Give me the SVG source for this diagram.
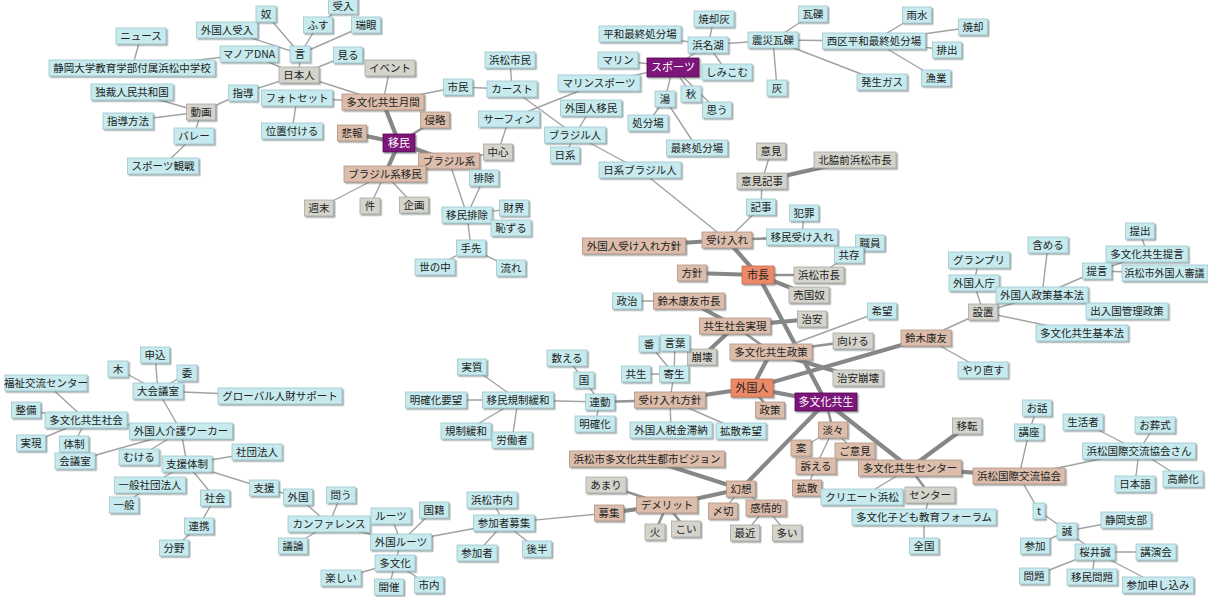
<svg xmlns="http://www.w3.org/2000/svg" width="1208" height="597" viewBox="0 0 1208 597">
<defs>
<filter id="sh" x="-10%" y="-20%" width="130%" height="160%"><feDropShadow dx="1.5" dy="1.5" stdDeviation="0.6" flood-color="#5a6a6a" flood-opacity="0.55"/></filter>
</defs>
<style>
rect{filter:url(#sh);stroke-width:0.8}
.c rect{fill:#c6eaee;stroke:#9fc6ca}
.g rect{fill:#d4d4cc;stroke:#a9a9a1}
.t rect{fill:#dcbdab;stroke:#b39383}
.s rect{fill:#ec8a68;stroke:#c46c50}
.p rect{fill:#7c1479;stroke:#5a0a58}
text{font-family:"Noto Sans CJK JP","Noto Sans CJK SC",sans-serif;font-size:10.5px;text-anchor:middle;fill:#222}
.p text{fill:#fff;font-size:11px}
.s text{font-size:11px}
#edges line{stroke:#a2a2a2;stroke-width:1.4;stroke-linecap:round}
#edges line.m{stroke:#929292;stroke-width:2.6}
#edges line.k{stroke:#878787;stroke-width:4.2}
</style>
<rect x="0" y="0" width="1208" height="597" fill="#fff" style="filter:none"/>
<g id="edges">
<line x1="141" y1="36" x2="132" y2="68"/>
<line x1="132" y1="68" x2="249" y2="54"/>
<line x1="249" y1="54" x2="299" y2="75"/>
<line x1="227" y1="30" x2="300" y2="54"/>
<line x1="266" y1="14" x2="300" y2="54"/>
<line x1="300" y1="54" x2="299" y2="75"/>
<line x1="318" y1="25" x2="300" y2="54"/>
<line x1="343" y1="6" x2="318" y2="25"/>
<line x1="366" y1="25" x2="300" y2="54"/>
<line x1="348" y1="55" x2="299" y2="75"/>
<line x1="299" y1="75" x2="243" y2="93"/>
<line x1="243" y1="93" x2="201" y2="112"/>
<line x1="201" y1="112" x2="132" y2="92"/>
<line x1="201" y1="112" x2="128" y2="121"/>
<line x1="201" y1="112" x2="194" y2="136"/>
<line x1="194" y1="136" x2="163" y2="166"/>
<line x1="299" y1="75" x2="383" y2="102"/>
<line x1="297" y1="98" x2="383" y2="102"/>
<line x1="297" y1="98" x2="292" y2="131"/>
<line x1="383" y1="102" x2="390" y2="68"/>
<line x1="383" y1="102" x2="458" y2="87"/>
<line x1="458" y1="87" x2="512" y2="89"/>
<line x1="512" y1="89" x2="510" y2="60"/>
<line x1="512" y1="89" x2="575" y2="135"/>
<line x1="509" y1="119" x2="599" y2="83"/>
<line x1="509" y1="119" x2="498" y2="152"/>
<line x1="498" y1="152" x2="449" y2="161"/>
<line class="k" x1="399" y1="143" x2="383" y2="102"/>
<line class="k" x1="399" y1="143" x2="352" y2="133"/>
<line class="k" x1="399" y1="143" x2="385" y2="174"/>
<line class="k" x1="399" y1="143" x2="449" y2="161"/>
<line class="m" x1="399" y1="143" x2="435" y2="120"/>
<line x1="385" y1="174" x2="319" y2="208"/>
<line x1="385" y1="174" x2="370" y2="206"/>
<line x1="385" y1="174" x2="414" y2="205"/>
<line x1="449" y1="161" x2="467" y2="215"/>
<line x1="484" y1="178" x2="467" y2="215"/>
<line x1="467" y1="215" x2="514" y2="208"/>
<line x1="467" y1="215" x2="511" y2="228"/>
<line x1="467" y1="215" x2="471" y2="248"/>
<line x1="471" y1="248" x2="435" y2="267"/>
<line x1="471" y1="248" x2="511" y2="268"/>
<line x1="591" y1="108" x2="575" y2="135"/>
<line x1="575" y1="135" x2="565" y2="155"/>
<line x1="575" y1="135" x2="640" y2="170"/>
<line x1="673" y1="67" x2="618" y2="60"/>
<line x1="673" y1="67" x2="599" y2="83"/>
<line x1="673" y1="67" x2="665" y2="99"/>
<line x1="673" y1="67" x2="691" y2="94"/>
<line x1="673" y1="67" x2="717" y2="110"/>
<line x1="673" y1="67" x2="708" y2="45"/>
<line x1="665" y1="99" x2="648" y2="123"/>
<line x1="665" y1="99" x2="697" y2="148"/>
<line x1="708" y1="45" x2="640" y2="34"/>
<line x1="708" y1="45" x2="714" y2="19"/>
<line x1="708" y1="45" x2="727" y2="72"/>
<line x1="708" y1="45" x2="773" y2="40"/>
<line x1="773" y1="40" x2="813" y2="14"/>
<line x1="773" y1="40" x2="777" y2="88"/>
<line x1="773" y1="40" x2="874" y2="41"/>
<line x1="773" y1="40" x2="882" y2="82"/>
<line x1="874" y1="41" x2="917" y2="15"/>
<line x1="874" y1="41" x2="973" y2="27"/>
<line x1="874" y1="41" x2="947" y2="50"/>
<line x1="874" y1="41" x2="936" y2="78"/>
<line x1="771" y1="151" x2="762" y2="181"/>
<line class="k" x1="762" y1="181" x2="855" y2="160"/>
<line x1="762" y1="181" x2="761" y2="207"/>
<line x1="761" y1="207" x2="727" y2="240"/>
<line x1="640" y1="170" x2="727" y2="240"/>
<line class="k" x1="727" y1="240" x2="634" y2="246"/>
<line class="m" x1="727" y1="240" x2="802" y2="237"/>
<line x1="802" y1="237" x2="804" y2="213"/>
<line class="k" x1="727" y1="240" x2="758" y2="275"/>
<line class="k" x1="758" y1="275" x2="692" y2="273"/>
<line class="m" x1="758" y1="275" x2="819" y2="275"/>
<line class="k" x1="758" y1="275" x2="809" y2="295"/>
<line class="k" x1="758" y1="275" x2="826" y2="402"/>
<line x1="819" y1="275" x2="849" y2="255"/>
<line x1="849" y1="255" x2="870" y2="243"/>
<line x1="627" y1="301" x2="689" y2="301"/>
<line class="k" x1="689" y1="301" x2="735" y2="326"/>
<line class="k" x1="735" y1="326" x2="812" y2="319"/>
<line class="m" x1="735" y1="326" x2="771" y2="352"/>
<line class="k" x1="735" y1="326" x2="702" y2="357"/>
<line x1="702" y1="357" x2="674" y2="374"/>
<line x1="674" y1="374" x2="649" y2="344"/>
<line x1="674" y1="374" x2="675" y2="343"/>
<line x1="674" y1="374" x2="636" y2="374"/>
<line x1="674" y1="374" x2="670" y2="400"/>
<line x1="771" y1="352" x2="882" y2="311"/>
<line class="m" x1="771" y1="352" x2="853" y2="341"/>
<line class="k" x1="771" y1="352" x2="858" y2="378"/>
<line class="k" x1="771" y1="352" x2="752" y2="388"/>
<line class="k" x1="752" y1="388" x2="670" y2="400"/>
<line class="m" x1="752" y1="388" x2="770" y2="410"/>
<line class="k" x1="752" y1="388" x2="826" y2="402"/>
<line class="k" x1="752" y1="388" x2="926" y2="338"/>
<line class="m" x1="670" y1="400" x2="600" y2="402"/>
<line x1="670" y1="400" x2="671" y2="430"/>
<line x1="670" y1="400" x2="741" y2="431"/>
<line x1="600" y1="402" x2="518" y2="400"/>
<line x1="600" y1="402" x2="595" y2="424"/>
<line x1="600" y1="402" x2="584" y2="380"/>
<line x1="584" y1="380" x2="567" y2="358"/>
<line x1="518" y1="400" x2="436" y2="400"/>
<line x1="518" y1="400" x2="472" y2="367"/>
<line x1="518" y1="400" x2="466" y2="431"/>
<line x1="518" y1="400" x2="512" y2="440"/>
<line x1="926" y1="338" x2="983" y2="312"/>
<line x1="926" y1="338" x2="983" y2="370"/>
<line x1="983" y1="312" x2="974" y2="283"/>
<line x1="974" y1="283" x2="979" y2="260"/>
<line x1="983" y1="312" x2="1042" y2="295"/>
<line x1="983" y1="312" x2="1082" y2="333"/>
<line x1="1042" y1="295" x2="1048" y2="245"/>
<line x1="1042" y1="295" x2="1097" y2="271"/>
<line x1="1042" y1="295" x2="1127" y2="311"/>
<line x1="1097" y1="271" x2="1147" y2="254"/>
<line x1="1097" y1="271" x2="1165" y2="273"/>
<line x1="1147" y1="254" x2="1140" y2="231"/>
<line class="m" x1="826" y1="402" x2="833" y2="430"/>
<line x1="833" y1="430" x2="801" y2="448"/>
<line x1="833" y1="430" x2="855" y2="451"/>
<line x1="833" y1="430" x2="816" y2="466"/>
<line x1="816" y1="466" x2="807" y2="488"/>
<line class="k" x1="826" y1="402" x2="910" y2="468"/>
<line class="k" x1="910" y1="468" x2="967" y2="426"/>
<line class="k" x1="910" y1="468" x2="1019" y2="476"/>
<line class="m" x1="910" y1="468" x2="930" y2="495"/>
<line x1="910" y1="468" x2="862" y2="497"/>
<line x1="930" y1="495" x2="924" y2="517"/>
<line x1="924" y1="517" x2="924" y2="546"/>
<line x1="1019" y1="476" x2="1029" y2="432"/>
<line x1="1029" y1="432" x2="1037" y2="408"/>
<line x1="1019" y1="476" x2="1139" y2="451"/>
<line x1="1139" y1="451" x2="1083" y2="422"/>
<line x1="1139" y1="451" x2="1155" y2="425"/>
<line x1="1139" y1="451" x2="1135" y2="484"/>
<line x1="1139" y1="451" x2="1183" y2="479"/>
<line x1="1019" y1="476" x2="1039" y2="511"/>
<line x1="1039" y1="511" x2="1067" y2="531"/>
<line x1="1067" y1="531" x2="1126" y2="520"/>
<line x1="1067" y1="531" x2="1035" y2="546"/>
<line x1="1067" y1="531" x2="1095" y2="552"/>
<line x1="1095" y1="552" x2="1156" y2="552"/>
<line x1="1095" y1="552" x2="1034" y2="576"/>
<line x1="1095" y1="552" x2="1092" y2="577"/>
<line x1="1095" y1="552" x2="1158" y2="585"/>
<line class="k" x1="826" y1="402" x2="741" y2="489"/>
<line class="k" x1="741" y1="489" x2="647" y2="459"/>
<line class="k" x1="741" y1="489" x2="667" y2="505"/>
<line x1="741" y1="489" x2="723" y2="511"/>
<line x1="741" y1="489" x2="766" y2="508"/>
<line x1="766" y1="508" x2="745" y2="533"/>
<line x1="766" y1="508" x2="787" y2="533"/>
<line class="m" x1="667" y1="505" x2="606" y2="485"/>
<line class="k" x1="667" y1="505" x2="609" y2="513"/>
<line class="m" x1="667" y1="505" x2="655" y2="532"/>
<line class="m" x1="667" y1="505" x2="686" y2="529"/>
<line x1="609" y1="513" x2="504" y2="523"/>
<line x1="158" y1="391" x2="155" y2="355"/>
<line x1="158" y1="391" x2="118" y2="369"/>
<line x1="158" y1="391" x2="187" y2="373"/>
<line x1="158" y1="391" x2="280" y2="396"/>
<line x1="158" y1="391" x2="181" y2="431"/>
<line x1="46" y1="383" x2="86" y2="420"/>
<line x1="86" y1="420" x2="26" y2="410"/>
<line x1="86" y1="420" x2="31" y2="443"/>
<line x1="86" y1="420" x2="74" y2="444"/>
<line x1="86" y1="420" x2="181" y2="431"/>
<line x1="181" y1="431" x2="75" y2="461"/>
<line x1="181" y1="431" x2="139" y2="457"/>
<line x1="181" y1="431" x2="187" y2="464"/>
<line x1="187" y1="464" x2="257" y2="452"/>
<line x1="187" y1="464" x2="150" y2="485"/>
<line x1="187" y1="464" x2="215" y2="498"/>
<line x1="187" y1="464" x2="264" y2="488"/>
<line x1="150" y1="485" x2="124" y2="505"/>
<line x1="215" y1="498" x2="199" y2="526"/>
<line x1="199" y1="526" x2="174" y2="548"/>
<line x1="264" y1="488" x2="298" y2="497"/>
<line x1="298" y1="497" x2="329" y2="524"/>
<line x1="341" y1="495" x2="329" y2="524"/>
<line x1="329" y1="524" x2="293" y2="546"/>
<line x1="329" y1="524" x2="401" y2="542"/>
<line x1="401" y1="542" x2="391" y2="516"/>
<line x1="401" y1="542" x2="434" y2="510"/>
<line x1="401" y1="542" x2="395" y2="563"/>
<line x1="401" y1="542" x2="504" y2="523"/>
<line x1="395" y1="563" x2="341" y2="578"/>
<line x1="395" y1="563" x2="389" y2="588"/>
<line x1="395" y1="563" x2="429" y2="585"/>
<line x1="504" y1="523" x2="492" y2="500"/>
<line x1="504" y1="523" x2="477" y2="553"/>
<line x1="504" y1="523" x2="537" y2="549"/>
</g>
<g id="n1" class="c"><rect x="116" y="28" width="50" height="16"/><text x="141" y="40">ニュース</text></g>
<g id="n2" class="c"><rect x="49" y="60" width="166" height="16"/><text x="132" y="72">静岡大学教育学部付属浜松中学校</text></g>
<g id="n3" class="c"><rect x="196.5" y="22" width="61" height="16"/><text x="227" y="34">外国人受入</text></g>
<g id="n4" class="c"><rect x="256" y="6" width="20" height="16"/><text x="266" y="18">奴</text></g>
<g id="n5" class="c"><rect x="220" y="46" width="58" height="16"/><text x="249" y="58">マノアDNA</text></g>
<g id="n6" class="c"><rect x="290" y="46" width="20" height="16"/><text x="300" y="58">言</text></g>
<g id="n7" class="c"><rect x="303.5" y="17" width="29" height="16"/><text x="318" y="29">ふす</text></g>
<g id="n8" class="c"><rect x="328.5" y="-2" width="29" height="16"/><text x="343" y="10">受入</text></g>
<g id="n9" class="c"><rect x="351.5" y="17" width="29" height="16"/><text x="366" y="29">瑞眼</text></g>
<g id="n10" class="c"><rect x="333.5" y="47" width="29" height="16"/><text x="348" y="59">見る</text></g>
<g id="n11" class="g"><rect x="279" y="67" width="40" height="16"/><text x="299" y="79">日本人</text></g>
<g id="n12" class="c"><rect x="228.5" y="85" width="29" height="16"/><text x="243" y="97">指導</text></g>
<g id="n13" class="c"><rect x="261.5" y="90" width="71" height="16"/><text x="297" y="102">フォトセット</text></g>
<g id="n14" class="c"><rect x="261.5" y="123" width="61" height="16"/><text x="292" y="135">位置付ける</text></g>
<g id="n15" class="c"><rect x="91" y="84" width="82" height="16"/><text x="132" y="96">独裁人民共和国</text></g>
<g id="n16" class="g"><rect x="186.5" y="104" width="29" height="16"/><text x="201" y="116">動画</text></g>
<g id="n17" class="c"><rect x="103" y="113" width="50" height="16"/><text x="128" y="125">指導方法</text></g>
<g id="n18" class="c"><rect x="174" y="128" width="40" height="16"/><text x="194" y="140">バレー</text></g>
<g id="n19" class="c"><rect x="127.5" y="158" width="71" height="16"/><text x="163" y="170">スポーツ観戦</text></g>
<g id="n20" class="g"><rect x="365" y="60" width="50" height="16"/><text x="390" y="72">イベント</text></g>
<g id="n21" class="t"><rect x="342" y="94" width="82" height="16"/><text x="383" y="106">多文化共生月間</text></g>
<g id="n22" class="c"><rect x="443.5" y="79" width="29" height="16"/><text x="458" y="91">市民</text></g>
<g id="n23" class="c"><rect x="485" y="52" width="50" height="16"/><text x="510" y="64">浜松市民</text></g>
<g id="n24" class="c"><rect x="487" y="81" width="50" height="16"/><text x="512" y="93">カースト</text></g>
<g id="n25" class="c"><rect x="478.5" y="111" width="61" height="16"/><text x="509" y="123">サーフィン</text></g>
<g id="n26" class="g"><rect x="483.5" y="144" width="29" height="16"/><text x="498" y="156">中心</text></g>
<g id="n27" class="t"><rect x="420.5" y="112" width="29" height="16"/><text x="435" y="124">侵略</text></g>
<g id="n28" class="t"><rect x="337.5" y="125" width="29" height="16"/><text x="352" y="137">悲報</text></g>
<g id="n29" class="p"><rect x="383" y="134" width="32" height="18"/><text x="399" y="147">移民</text></g>
<g id="n30" class="t"><rect x="418.5" y="153" width="61" height="16"/><text x="449" y="165">ブラジル系</text></g>
<g id="n31" class="t"><rect x="344" y="166" width="82" height="16"/><text x="385" y="178">ブラジル系移民</text></g>
<g id="n32" class="g"><rect x="304.5" y="200" width="29" height="16"/><text x="319" y="212">週末</text></g>
<g id="n33" class="g"><rect x="360" y="198" width="20" height="16"/><text x="370" y="210">件</text></g>
<g id="n34" class="g"><rect x="399.5" y="197" width="29" height="16"/><text x="414" y="209">企画</text></g>
<g id="n35" class="c"><rect x="469.5" y="170" width="29" height="16"/><text x="484" y="182">排除</text></g>
<g id="n36" class="c"><rect x="442" y="207" width="50" height="16"/><text x="467" y="219">移民排除</text></g>
<g id="n37" class="c"><rect x="499.5" y="200" width="29" height="16"/><text x="514" y="212">財界</text></g>
<g id="n38" class="c"><rect x="491" y="220" width="40" height="16"/><text x="511" y="232">恥ずる</text></g>
<g id="n39" class="c"><rect x="456.5" y="240" width="29" height="16"/><text x="471" y="252">手先</text></g>
<g id="n40" class="c"><rect x="415" y="259" width="40" height="16"/><text x="435" y="271">世の中</text></g>
<g id="n41" class="c"><rect x="496.5" y="260" width="29" height="16"/><text x="511" y="272">流れ</text></g>
<g id="n42" class="c"><rect x="558" y="75" width="82" height="16"/><text x="599" y="87">マリンスポーツ</text></g>
<g id="n43" class="c"><rect x="560.5" y="100" width="61" height="16"/><text x="591" y="112">外国人移民</text></g>
<g id="n44" class="c"><rect x="544.5" y="127" width="61" height="16"/><text x="575" y="139">ブラジル人</text></g>
<g id="n45" class="c"><rect x="550.5" y="147" width="29" height="16"/><text x="565" y="159">日系</text></g>
<g id="n46" class="c"><rect x="599" y="162" width="82" height="16"/><text x="640" y="174">日系ブラジル人</text></g>
<g id="n47" class="c"><rect x="599" y="26" width="82" height="16"/><text x="640" y="38">平和最終処分場</text></g>
<g id="n48" class="c"><rect x="598" y="52" width="40" height="16"/><text x="618" y="64">マリン</text></g>
<g id="n49" class="p"><rect x="647" y="58" width="52" height="19"/><text x="673" y="71">スポーツ</text></g>
<g id="n50" class="c"><rect x="694" y="11" width="40" height="16"/><text x="714" y="23">焼却灰</text></g>
<g id="n51" class="c"><rect x="688" y="37" width="40" height="16"/><text x="708" y="49">浜名湖</text></g>
<g id="n52" class="c"><rect x="702" y="64" width="50" height="16"/><text x="727" y="76">しみこむ</text></g>
<g id="n53" class="c"><rect x="655" y="91" width="20" height="16"/><text x="665" y="103">湯</text></g>
<g id="n54" class="c"><rect x="681" y="86" width="20" height="16"/><text x="691" y="98">秋</text></g>
<g id="n55" class="c"><rect x="702.5" y="102" width="29" height="16"/><text x="717" y="114">思う</text></g>
<g id="n56" class="c"><rect x="628" y="115" width="40" height="16"/><text x="648" y="127">処分場</text></g>
<g id="n57" class="c"><rect x="666.5" y="140" width="61" height="16"/><text x="697" y="152">最終処分場</text></g>
<g id="n58" class="c"><rect x="748" y="32" width="50" height="16"/><text x="773" y="44">震災瓦礫</text></g>
<g id="n59" class="c"><rect x="798.5" y="6" width="29" height="16"/><text x="813" y="18">瓦礫</text></g>
<g id="n60" class="c"><rect x="767" y="80" width="20" height="16"/><text x="777" y="92">灰</text></g>
<g id="n61" class="c"><rect x="822.5" y="33" width="103" height="16"/><text x="874" y="45">西区平和最終処分場</text></g>
<g id="n62" class="c"><rect x="902.5" y="7" width="29" height="16"/><text x="917" y="19">雨水</text></g>
<g id="n63" class="c"><rect x="958.5" y="19" width="29" height="16"/><text x="973" y="31">焼却</text></g>
<g id="n64" class="c"><rect x="932.5" y="42" width="29" height="16"/><text x="947" y="54">排出</text></g>
<g id="n65" class="c"><rect x="857" y="74" width="50" height="16"/><text x="882" y="86">発生ガス</text></g>
<g id="n66" class="c"><rect x="921.5" y="70" width="29" height="16"/><text x="936" y="82">漁業</text></g>
<g id="n67" class="g"><rect x="756.5" y="143" width="29" height="16"/><text x="771" y="155">意見</text></g>
<g id="n68" class="g"><rect x="737" y="173" width="50" height="16"/><text x="762" y="185">意見記事</text></g>
<g id="n69" class="g"><rect x="814" y="152" width="82" height="16"/><text x="855" y="164">北脇前浜松市長</text></g>
<g id="n70" class="c"><rect x="746.5" y="199" width="29" height="16"/><text x="761" y="211">記事</text></g>
<g id="n71" class="c"><rect x="789.5" y="205" width="29" height="16"/><text x="804" y="217">犯罪</text></g>
<g id="n72" class="t"><rect x="702" y="232" width="50" height="16"/><text x="727" y="244">受け入れ</text></g>
<g id="n73" class="c"><rect x="766.5" y="229" width="71" height="16"/><text x="802" y="241">移民受け入れ</text></g>
<g id="n74" class="t"><rect x="582.5" y="238" width="103" height="16"/><text x="634" y="250">外国人受け入れ方針</text></g>
<g id="n75" class="c"><rect x="855.5" y="235" width="29" height="16"/><text x="870" y="247">職員</text></g>
<g id="n76" class="c"><rect x="834.5" y="247" width="29" height="16"/><text x="849" y="259">共存</text></g>
<g id="n77" class="t"><rect x="677.5" y="265" width="29" height="16"/><text x="692" y="277">方針</text></g>
<g id="n78" class="s"><rect x="742" y="266" width="32" height="18"/><text x="758" y="279">市長</text></g>
<g id="n79" class="g"><rect x="794" y="267" width="50" height="16"/><text x="819" y="279">浜松市長</text></g>
<g id="n80" class="g"><rect x="789" y="287" width="40" height="16"/><text x="809" y="299">売国奴</text></g>
<g id="n81" class="c"><rect x="612.5" y="293" width="29" height="16"/><text x="627" y="305">政治</text></g>
<g id="n82" class="t"><rect x="653.5" y="293" width="71" height="16"/><text x="689" y="305">鈴木康友市長</text></g>
<g id="n83" class="t"><rect x="699.5" y="318" width="71" height="16"/><text x="735" y="330">共生社会実現</text></g>
<g id="n84" class="g"><rect x="797.5" y="311" width="29" height="16"/><text x="812" y="323">治安</text></g>
<g id="n85" class="c"><rect x="867.5" y="303" width="29" height="16"/><text x="882" y="315">希望</text></g>
<g id="n86" class="g"><rect x="833" y="333" width="40" height="16"/><text x="853" y="345">向ける</text></g>
<g id="n87" class="t"><rect x="730" y="344" width="82" height="16"/><text x="771" y="356">多文化共生政策</text></g>
<g id="n88" class="g"><rect x="687.5" y="349" width="29" height="16"/><text x="702" y="361">崩壊</text></g>
<g id="n89" class="c"><rect x="639" y="336" width="20" height="16"/><text x="649" y="348">番</text></g>
<g id="n90" class="c"><rect x="660.5" y="335" width="29" height="16"/><text x="675" y="347">言葉</text></g>
<g id="n91" class="c"><rect x="621.5" y="366" width="29" height="16"/><text x="636" y="378">共生</text></g>
<g id="n92" class="c"><rect x="659.5" y="366" width="29" height="16"/><text x="674" y="378">寄生</text></g>
<g id="n93" class="g"><rect x="833" y="370" width="50" height="16"/><text x="858" y="382">治安崩壊</text></g>
<g id="n94" class="s"><rect x="731" y="379" width="42" height="18"/><text x="752" y="392">外国人</text></g>
<g id="n95" class="t"><rect x="634.5" y="392" width="71" height="16"/><text x="670" y="404">受け入れ方針</text></g>
<g id="n96" class="p"><rect x="795" y="393" width="62" height="18"/><text x="826" y="406">多文化共生</text></g>
<g id="n97" class="t"><rect x="755.5" y="402" width="29" height="16"/><text x="770" y="414">政策</text></g>
<g id="n98" class="c"><rect x="630" y="422" width="82" height="16"/><text x="671" y="434">外国人税金滞納</text></g>
<g id="n99" class="c"><rect x="716" y="423" width="50" height="16"/><text x="741" y="435">拡散希望</text></g>
<g id="n100" class="t"><rect x="901" y="330" width="50" height="16"/><text x="926" y="342">鈴木康友</text></g>
<g id="n101" class="g"><rect x="968.5" y="304" width="29" height="16"/><text x="983" y="316">設置</text></g>
<g id="n102" class="c"><rect x="948.5" y="252" width="61" height="16"/><text x="979" y="264">グランプリ</text></g>
<g id="n103" class="c"><rect x="949" y="275" width="50" height="16"/><text x="974" y="287">外国人庁</text></g>
<g id="n104" class="c"><rect x="1028" y="237" width="40" height="16"/><text x="1048" y="249">含める</text></g>
<g id="n105" class="c"><rect x="996" y="287" width="92" height="16"/><text x="1042" y="299">外国人政策基本法</text></g>
<g id="n106" class="c"><rect x="1125.5" y="223" width="29" height="16"/><text x="1140" y="235">提出</text></g>
<g id="n107" class="c"><rect x="1106" y="246" width="82" height="16"/><text x="1147" y="258">多文化共生提言</text></g>
<g id="n108" class="c"><rect x="1082.5" y="263" width="29" height="16"/><text x="1097" y="275">提言</text></g>
<g id="n109" class="c"><rect x="1122" y="265" width="86" height="16"/><text x="1164.5" y="277" style="font-size:10px">浜松市外国人審議</text></g>
<g id="n110" class="c"><rect x="1086" y="303" width="82" height="16"/><text x="1127" y="315">出入国管理政策</text></g>
<g id="n111" class="c"><rect x="1036" y="325" width="92" height="16"/><text x="1082" y="337">多文化共生基本法</text></g>
<g id="n112" class="c"><rect x="958" y="362" width="50" height="16"/><text x="983" y="374">やり直す</text></g>
<g id="n113" class="c"><rect x="547" y="350" width="40" height="16"/><text x="567" y="362">数える</text></g>
<g id="n114" class="c"><rect x="574" y="372" width="20" height="16"/><text x="584" y="384">国</text></g>
<g id="n115" class="c"><rect x="457.5" y="359" width="29" height="16"/><text x="472" y="371">実質</text></g>
<g id="n116" class="c"><rect x="405.5" y="392" width="61" height="16"/><text x="436" y="404">明確化要望</text></g>
<g id="n117" class="c"><rect x="482.5" y="392" width="71" height="16"/><text x="518" y="404">移民規制緩和</text></g>
<g id="n118" class="c"><rect x="585.5" y="394" width="29" height="16"/><text x="600" y="406">連動</text></g>
<g id="n119" class="c"><rect x="575" y="416" width="40" height="16"/><text x="595" y="428">明確化</text></g>
<g id="n120" class="c"><rect x="441" y="423" width="50" height="16"/><text x="466" y="435">規制緩和</text></g>
<g id="n121" class="c"><rect x="492" y="432" width="40" height="16"/><text x="512" y="444">労働者</text></g>
<g id="n122" class="t"><rect x="569.5" y="451" width="155" height="16"/><text x="647" y="463">浜松市多文化共生都市ビジョン</text></g>
<g id="n123" class="g"><rect x="586" y="477" width="40" height="16"/><text x="606" y="489">あまり</text></g>
<g id="n124" class="t"><rect x="594.5" y="505" width="29" height="16"/><text x="609" y="517">募集</text></g>
<g id="n125" class="t"><rect x="636.5" y="497" width="61" height="16"/><text x="667" y="509">デメリット</text></g>
<g id="n126" class="g"><rect x="645" y="524" width="20" height="16"/><text x="655" y="536">火</text></g>
<g id="n127" class="g"><rect x="671.5" y="521" width="29" height="16"/><text x="686" y="533">こい</text></g>
<g id="n128" class="t"><rect x="726.5" y="481" width="29" height="16"/><text x="741" y="493">幻想</text></g>
<g id="n129" class="t"><rect x="708.5" y="503" width="29" height="16"/><text x="723" y="515">〆切</text></g>
<g id="n130" class="t"><rect x="746" y="500" width="40" height="16"/><text x="766" y="512">感情的</text></g>
<g id="n131" class="g"><rect x="730.5" y="525" width="29" height="16"/><text x="745" y="537">最近</text></g>
<g id="n132" class="g"><rect x="772.5" y="525" width="29" height="16"/><text x="787" y="537">多い</text></g>
<g id="n133" class="t"><rect x="818.5" y="422" width="29" height="16"/><text x="833" y="434">淡々</text></g>
<g id="n134" class="t"><rect x="791" y="440" width="20" height="16"/><text x="801" y="452">案</text></g>
<g id="n135" class="t"><rect x="835" y="443" width="40" height="16"/><text x="855" y="455">ご意見</text></g>
<g id="n136" class="t"><rect x="796" y="458" width="40" height="16"/><text x="816" y="470">訴える</text></g>
<g id="n137" class="t"><rect x="792.5" y="480" width="29" height="16"/><text x="807" y="492">拡散</text></g>
<g id="n138" class="c"><rect x="821" y="489" width="82" height="16"/><text x="862" y="501">クリエート浜松</text></g>
<g id="n139" class="c"><rect x="852" y="509" width="144" height="16"/><text x="924" y="521">多文化子ども教育フォーラム</text></g>
<g id="n140" class="t"><rect x="858.5" y="460" width="103" height="16"/><text x="910" y="472">多文化共生センター</text></g>
<g id="n141" class="g"><rect x="952.5" y="418" width="29" height="16"/><text x="967" y="430">移転</text></g>
<g id="n142" class="g"><rect x="905" y="487" width="50" height="16"/><text x="930" y="499">センター</text></g>
<g id="n143" class="c"><rect x="909.5" y="538" width="29" height="16"/><text x="924" y="550">全国</text></g>
<g id="n144" class="t"><rect x="973" y="468" width="92" height="16"/><text x="1019" y="480">浜松国際交流協会</text></g>
<g id="n145" class="c"><rect x="1022.5" y="400" width="29" height="16"/><text x="1037" y="412">お話</text></g>
<g id="n146" class="c"><rect x="1014.5" y="424" width="29" height="16"/><text x="1029" y="436">講座</text></g>
<g id="n147" class="c"><rect x="1063" y="414" width="40" height="16"/><text x="1083" y="426">生活者</text></g>
<g id="n148" class="c"><rect x="1135" y="417" width="40" height="16"/><text x="1155" y="429">お葬式</text></g>
<g id="n149" class="c"><rect x="1082.5" y="443" width="113" height="16"/><text x="1139" y="455">浜松国際交流協会さん</text></g>
<g id="n150" class="c"><rect x="1115" y="476" width="40" height="16"/><text x="1135" y="488">日本語</text></g>
<g id="n151" class="c"><rect x="1163" y="471" width="40" height="16"/><text x="1183" y="483">高齢化</text></g>
<g id="n152" class="c"><rect x="1033" y="503" width="12" height="16"/><text x="1039" y="515">t</text></g>
<g id="n153" class="c"><rect x="1057" y="523" width="20" height="16"/><text x="1067" y="535">誠</text></g>
<g id="n154" class="c"><rect x="1101" y="512" width="50" height="16"/><text x="1126" y="524">静岡支部</text></g>
<g id="n155" class="c"><rect x="1020.5" y="538" width="29" height="16"/><text x="1035" y="550">参加</text></g>
<g id="n156" class="c"><rect x="1075" y="544" width="40" height="16"/><text x="1095" y="556">桜井誠</text></g>
<g id="n157" class="c"><rect x="1136" y="544" width="40" height="16"/><text x="1156" y="556">講演会</text></g>
<g id="n158" class="c"><rect x="1019.5" y="568" width="29" height="16"/><text x="1034" y="580">問題</text></g>
<g id="n159" class="c"><rect x="1067" y="569" width="50" height="16"/><text x="1092" y="581">移民問題</text></g>
<g id="n160" class="c"><rect x="1122.5" y="577" width="71" height="16"/><text x="1158" y="589">参加申し込み</text></g>
<g id="n161" class="c"><rect x="140.5" y="347" width="29" height="16"/><text x="155" y="359">申込</text></g>
<g id="n162" class="c"><rect x="108" y="361" width="20" height="16"/><text x="118" y="373">木</text></g>
<g id="n163" class="c"><rect x="177" y="365" width="20" height="16"/><text x="187" y="377">委</text></g>
<g id="n164" class="c"><rect x="133" y="383" width="50" height="16"/><text x="158" y="395">大会議室</text></g>
<g id="n165" class="c"><rect x="218" y="388" width="124" height="16"/><text x="280" y="400">グローバル人財サポート</text></g>
<g id="n166" class="c"><rect x="5" y="375" width="82" height="16"/><text x="46" y="387">福祉交流センター</text></g>
<g id="n167" class="c"><rect x="11.5" y="402" width="29" height="16"/><text x="26" y="414">整備</text></g>
<g id="n168" class="c"><rect x="45" y="412" width="82" height="16"/><text x="86" y="424">多文化共生社会</text></g>
<g id="n169" class="c"><rect x="16.5" y="435" width="29" height="16"/><text x="31" y="447">実現</text></g>
<g id="n170" class="c"><rect x="59.5" y="436" width="29" height="16"/><text x="74" y="448">体制</text></g>
<g id="n171" class="c"><rect x="55" y="453" width="40" height="16"/><text x="75" y="465">会議室</text></g>
<g id="n172" class="c"><rect x="129.5" y="423" width="103" height="16"/><text x="181" y="435">外国人介護ワーカー</text></g>
<g id="n173" class="c"><rect x="119" y="449" width="40" height="16"/><text x="139" y="461">むける</text></g>
<g id="n174" class="c"><rect x="162" y="456" width="50" height="16"/><text x="187" y="468">支援体制</text></g>
<g id="n175" class="c"><rect x="232" y="444" width="50" height="16"/><text x="257" y="456">社団法人</text></g>
<g id="n176" class="c"><rect x="114.5" y="477" width="71" height="16"/><text x="150" y="489">一般社団法人</text></g>
<g id="n177" class="c"><rect x="109.5" y="497" width="29" height="16"/><text x="124" y="509">一般</text></g>
<g id="n178" class="c"><rect x="200.5" y="490" width="29" height="16"/><text x="215" y="502">社会</text></g>
<g id="n179" class="c"><rect x="249.5" y="480" width="29" height="16"/><text x="264" y="492">支援</text></g>
<g id="n180" class="c"><rect x="184.5" y="518" width="29" height="16"/><text x="199" y="530">連携</text></g>
<g id="n181" class="c"><rect x="159.5" y="540" width="29" height="16"/><text x="174" y="552">分野</text></g>
<g id="n182" class="c"><rect x="283.5" y="489" width="29" height="16"/><text x="298" y="501">外国</text></g>
<g id="n183" class="c"><rect x="326.5" y="487" width="29" height="16"/><text x="341" y="499">問う</text></g>
<g id="n184" class="c"><rect x="288" y="516" width="82" height="16"/><text x="329" y="528">カンファレンス</text></g>
<g id="n185" class="c"><rect x="278.5" y="538" width="29" height="16"/><text x="293" y="550">議論</text></g>
<g id="n186" class="c"><rect x="371" y="508" width="40" height="16"/><text x="391" y="520">ルーツ</text></g>
<g id="n187" class="c"><rect x="419.5" y="502" width="29" height="16"/><text x="434" y="514">国籍</text></g>
<g id="n188" class="c"><rect x="370.5" y="534" width="61" height="16"/><text x="401" y="546">外国ルーツ</text></g>
<g id="n189" class="c"><rect x="375" y="555" width="40" height="16"/><text x="395" y="567">多文化</text></g>
<g id="n190" class="c"><rect x="321" y="570" width="40" height="16"/><text x="341" y="582">楽しい</text></g>
<g id="n191" class="c"><rect x="374.5" y="579" width="29" height="16"/><text x="389" y="591">開催</text></g>
<g id="n192" class="c"><rect x="414.5" y="577" width="29" height="16"/><text x="429" y="589">市内</text></g>
<g id="n193" class="c"><rect x="467" y="492" width="50" height="16"/><text x="492" y="504">浜松市内</text></g>
<g id="n194" class="c"><rect x="473.5" y="515" width="61" height="16"/><text x="504" y="527">参加者募集</text></g>
<g id="n195" class="c"><rect x="457" y="545" width="40" height="16"/><text x="477" y="557">参加者</text></g>
<g id="n196" class="c"><rect x="522.5" y="541" width="29" height="16"/><text x="537" y="553">後半</text></g>
</svg>
